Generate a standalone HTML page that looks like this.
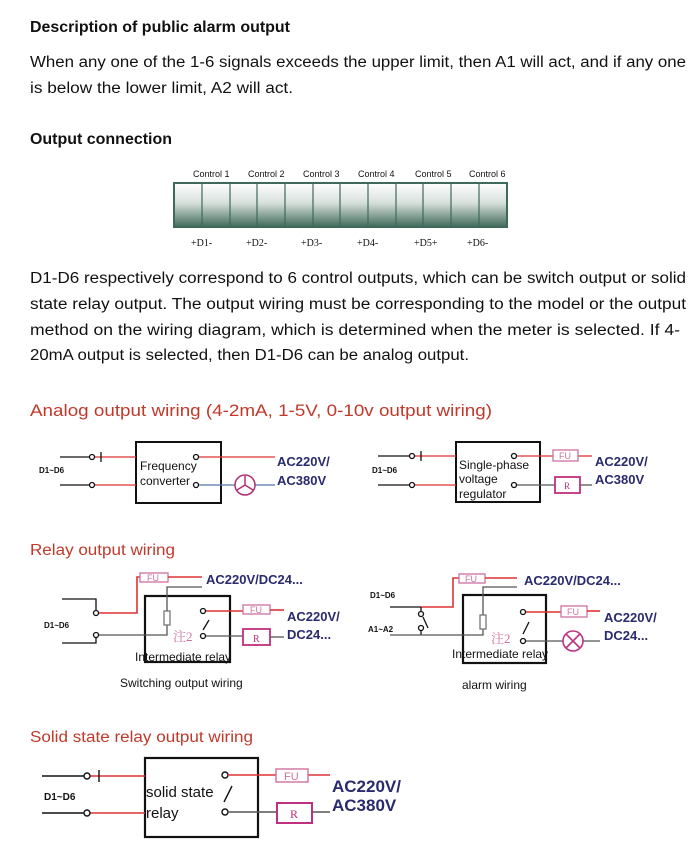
<!DOCTYPE html>
<html><head><meta charset="utf-8"><style>
html,body{margin:0;padding:0;background:#fff;width:699px;height:850px;overflow:hidden}
svg{display:block}
text{font-family:"Liberation Sans","Noto Sans CJK SC",sans-serif}
.p{font-size:15.5px;fill:#111}
.b{font-weight:bold;font-size:13px;fill:#2a2a6e}
.s{font-size:9px;fill:#111}
.l{font-size:12px;fill:#111}
.r{fill:#c0392b}
</style></head><body>
<svg width="699" height="850" viewBox="0 0 699 850">
<defs><linearGradient id="g" x1="0" y1="0" x2="0" y2="1"><stop offset="0" stop-color="#fff"/><stop offset="0.45" stop-color="#d8e0dc"/><stop offset="1" stop-color="#3f6a5a"/></linearGradient></defs>
<text x="30" y="32" font-weight="bold" font-size="15.5" fill="#111" textLength="260" lengthAdjust="spacingAndGlyphs">Description of public alarm output</text>
<text x="30" y="67" class="p" textLength="656" lengthAdjust="spacingAndGlyphs">When any one of the 1-6 signals exceeds the upper limit, then A1 will act, and if any one</text>
<text x="30" y="93" class="p" textLength="263" lengthAdjust="spacingAndGlyphs">is below the lower limit, A2 will act.</text>
<text x="30" y="144" font-weight="bold" font-size="15.5" fill="#111" textLength="142" lengthAdjust="spacingAndGlyphs">Output connection</text>
<g class="s">
<text x="193" y="177">Control 1</text><text x="248" y="177">Control 2</text><text x="303" y="177">Control 3</text><text x="358" y="177">Control 4</text><text x="415" y="177">Control 5</text><text x="469" y="177">Control 6</text>
</g>
<rect x="174" y="183" width="333" height="44" fill="url(#g)" stroke="#3f6a5a" stroke-width="2"/>
<g stroke="#3f6a5a" stroke-width="1.2">
<line x1="202" y1="184" x2="202" y2="226"/><line x1="230" y1="184" x2="230" y2="226"/><line x1="257" y1="184" x2="257" y2="226"/><line x1="285" y1="184" x2="285" y2="226"/><line x1="313" y1="184" x2="313" y2="226"/><line x1="340" y1="184" x2="340" y2="226"/><line x1="368" y1="184" x2="368" y2="226"/><line x1="396" y1="184" x2="396" y2="226"/><line x1="423" y1="184" x2="423" y2="226"/><line x1="451" y1="184" x2="451" y2="226"/><line x1="479" y1="184" x2="479" y2="226"/>
</g>
<g font-size="10" fill="#111">
<text x="191" y="246" style="font-family:'Liberation Serif',serif">+D1-</text><text x="246" y="246" style="font-family:'Liberation Serif',serif">+D2-</text><text x="301" y="246" style="font-family:'Liberation Serif',serif">+D3-</text><text x="357" y="246" style="font-family:'Liberation Serif',serif">+D4-</text><text x="414" y="246" style="font-family:'Liberation Serif',serif">+D5+</text><text x="467" y="246" style="font-family:'Liberation Serif',serif">+D6-</text>
</g>
<text x="30" y="283" class="p" textLength="656" lengthAdjust="spacingAndGlyphs">D1-D6 respectively correspond to 6 control outputs, which can be switch output or solid</text>
<text x="30" y="309" class="p" textLength="656" lengthAdjust="spacingAndGlyphs">state relay output. The output wiring must be corresponding to the model or the output</text>
<text x="30" y="335" class="p" textLength="650" lengthAdjust="spacingAndGlyphs">method on the wiring diagram, which is determined when the meter is selected. If 4-</text>
<text x="30" y="360" class="p" textLength="439" lengthAdjust="spacingAndGlyphs">20mA output is selected, then D1-D6 can be analog output.</text>
<text x="30" y="416" font-size="16.5" class="r" textLength="462" lengthAdjust="spacingAndGlyphs">Analog output wiring (4-2mA, 1-5V, 0-10v output wiring)</text>

<!-- Diagram 1 -->
<g fill="none" stroke-width="1.3">
<rect x="136" y="442" width="85" height="61" stroke="#111" stroke-width="2"/>
<line x1="60" y1="457" x2="90" y2="457" stroke="#111"/><line x1="95" y1="457" x2="136" y2="457" stroke="#d33"/><line x1="101" y1="452" x2="101" y2="462" stroke="#111"/>
<line x1="60" y1="485" x2="90" y2="485" stroke="#111"/><line x1="95" y1="485" x2="136" y2="485" stroke="#d33"/>
<circle cx="92" cy="457" r="2.5" stroke="#111"/><circle cx="92" cy="485" r="2.5" stroke="#111"/>
<circle cx="196" cy="457" r="2.5" stroke="#111"/><circle cx="196" cy="485" r="2.5" stroke="#111"/>
<line x1="199" y1="457" x2="275" y2="457" stroke="#d33"/>
<line x1="199" y1="485" x2="235" y2="485" stroke="#57a"/><line x1="255" y1="485" x2="275" y2="485" stroke="#57a"/>
<circle cx="245" cy="485" r="10" stroke="#b03070" stroke-width="1.5"/>
<path d="M245 485 V476 M245 485 L237 490 M245 485 L253 490" stroke="#b03070" stroke-width="1.5"/>
</g>
<text x="39" y="473" font-size="8" font-weight="bold" fill="#111">D1~D6</text>
<text x="140" y="470" font-size="12" fill="#111">Frequency</text><text x="140" y="485" font-size="12" fill="#111">converter</text>
<text x="277" y="466" class="b">AC220V/</text><text x="277" y="485" class="b">AC380V</text>

<!-- Diagram 2 -->
<g fill="none" stroke-width="1.3">
<rect x="456" y="442" width="84" height="60" stroke="#111" stroke-width="2"/>
<line x1="378" y1="456" x2="410" y2="456" stroke="#111"/><line x1="415" y1="456" x2="456" y2="456" stroke="#d33"/><line x1="421" y1="451" x2="421" y2="461" stroke="#111"/>
<line x1="378" y1="485" x2="410" y2="485" stroke="#111"/><line x1="415" y1="485" x2="456" y2="485" stroke="#d33"/>
<circle cx="412" cy="456" r="2.5" stroke="#111"/><circle cx="412" cy="485" r="2.5" stroke="#111"/>
<circle cx="514" cy="456" r="2.5" stroke="#111"/><circle cx="514" cy="485" r="2.5" stroke="#111"/>
<line x1="517" y1="456" x2="553" y2="456" stroke="#d33"/><line x1="578" y1="456" x2="592" y2="456" stroke="#d33"/>
<rect x="553" y="450" width="25" height="11" stroke="#d070a0"/>
<line x1="517" y1="485" x2="555" y2="485" stroke="#555"/><line x1="580" y1="485" x2="592" y2="485" stroke="#555"/>
<rect x="555" y="477" width="25" height="16" stroke="#c03080" stroke-width="1.8"/>
</g>
<text x="559" y="459" font-size="9" fill="#d070a0">FU</text><text x="564" y="489" font-size="9" fill="#c03080" style="font-family:'Liberation Serif',serif">R</text>
<text x="372" y="473" font-size="8" font-weight="bold" fill="#111">D1~D6</text>
<text x="459" y="469" font-size="12" fill="#111">Single-phase</text><text x="459" y="483" font-size="12" fill="#111">voltage</text><text x="459" y="498" font-size="12" fill="#111">regulator</text>
<text x="595" y="466" class="b">AC220V/</text><text x="595" y="484" class="b">AC380V</text>

<text x="30" y="555" font-size="15.5" class="r" textLength="145" lengthAdjust="spacingAndGlyphs">Relay output wiring</text>

<!-- Relay 1 -->
<g fill="none" stroke-width="1.3">
<rect x="145" y="596" width="85" height="66" stroke="#111" stroke-width="2.2"/>
<polyline points="62,599 96,599 96,610" stroke="#111"/>
<polyline points="62,643 96,643 96,638" stroke="#111"/>
<circle cx="96" cy="613" r="2.5" stroke="#111"/><circle cx="96" cy="635" r="2.5" stroke="#111"/>
<polyline points="99,613 137,613 137,577 140,577" stroke="#d33" stroke-width="1.6"/>
<rect x="140" y="573" width="28" height="9" stroke="#d070a0"/>
<line x1="168" y1="577" x2="202" y2="577" stroke="#d33" stroke-width="1.6"/>
<polyline points="99,635 167,635 167,625" stroke="#555"/>
<rect x="164" y="611" width="6" height="14" stroke="#777"/>
<polyline points="167,611 167,587 202,587" stroke="#555"/>
<circle cx="203" cy="611" r="2.5" stroke="#111"/><circle cx="203" cy="636" r="2.5" stroke="#111"/>
<line x1="203" y1="630" x2="209" y2="620" stroke="#111"/>
<line x1="206" y1="611" x2="243" y2="611" stroke="#d33" stroke-width="1.6"/>
<rect x="243" y="605" width="27" height="9" stroke="#d070a0"/>
<line x1="270" y1="610" x2="284" y2="610" stroke="#d33" stroke-width="1.6"/>
<line x1="206" y1="636" x2="243" y2="636" stroke="#555"/>
<rect x="243" y="629" width="27" height="16" stroke="#c03080" stroke-width="1.8"/>
<line x1="270" y1="637" x2="284" y2="637" stroke="#555"/>
</g>
<text x="147" y="581" font-size="9" fill="#d070a0">FU</text><text x="250" y="613" font-size="9" fill="#d070a0">FU</text>
<text x="253" y="642" font-size="10" fill="#c03080" style="font-family:'Liberation Serif',serif">R</text>
<text x="44" y="628" font-size="8" font-weight="bold" fill="#111">D1~D6</text>
<text x="173" y="641" font-size="13" fill="#d070a0" style="font-family:'Liberation Serif','Noto Serif CJK SC',serif">注2</text>
<text x="206" y="584" class="b">AC220V/DC24...</text>
<text x="287" y="621" class="b">AC220V/</text><text x="287" y="639" class="b">DC24...</text>
<text x="135" y="661" font-size="12" fill="#111">Intermediate relay</text>
<text x="120" y="687" font-size="12" fill="#111">Switching output wiring</text>

<!-- Relay 2 -->
<g fill="none" stroke-width="1.3">
<rect x="463" y="595" width="83" height="68" stroke="#111" stroke-width="2.2"/>
<line x1="390" y1="607" x2="421" y2="607" stroke="#111"/>
<polyline points="421,607 453,607 453,578 459,578" stroke="#d33" stroke-width="1.6"/>
<rect x="459" y="574" width="26" height="9" stroke="#d070a0"/>
<line x1="485" y1="578" x2="517" y2="578" stroke="#d33" stroke-width="1.6"/>
<line x1="421" y1="607" x2="421" y2="611" stroke="#111"/>
<circle cx="421" cy="614" r="2.5" stroke="#111"/><circle cx="421" cy="628" r="2.5" stroke="#111"/>
<line x1="423" y1="617" x2="428" y2="628" stroke="#111"/>
<line x1="421" y1="631" x2="421" y2="635" stroke="#111"/>
<polyline points="390,635 483,635 483,629" stroke="#555"/>
<rect x="480" y="615" width="6" height="14" stroke="#777"/>
<polyline points="483,615 483,587 517,587" stroke="#555"/>
<circle cx="523" cy="612" r="2.5" stroke="#111"/><circle cx="523" cy="641" r="2.5" stroke="#111"/>
<line x1="523" y1="634" x2="529" y2="622" stroke="#111"/>
<line x1="526" y1="612" x2="561" y2="612" stroke="#d33" stroke-width="1.6"/>
<rect x="561" y="606" width="26" height="11" stroke="#d070a0"/>
<line x1="587" y1="611" x2="600" y2="611" stroke="#d33" stroke-width="1.6"/>
<line x1="526" y1="641" x2="563" y2="641" stroke="#555"/><line x1="583" y1="641" x2="600" y2="641" stroke="#555"/>
<circle cx="573" cy="641" r="10" stroke="#c03080" stroke-width="1.6"/>
<path d="M566 634 L580 648 M580 634 L566 648" stroke="#c03080" stroke-width="1.6"/>
</g>
<text x="465" y="582" font-size="9" fill="#d070a0">FU</text><text x="567" y="615" font-size="9" fill="#d070a0">FU</text>
<text x="370" y="598" font-size="8" font-weight="bold" fill="#111">D1~D6</text>
<text x="368" y="632" font-size="8" font-weight="bold" fill="#111">A1~A2</text>
<text x="491" y="643" font-size="13" fill="#d070a0" style="font-family:'Liberation Serif','Noto Serif CJK SC',serif">注2</text>
<text x="524" y="585" class="b">AC220V/DC24...</text>
<text x="604" y="622" class="b">AC220V/</text><text x="604" y="640" class="b">DC24...</text>
<text x="452" y="658" font-size="12" fill="#111">Intermediate relay</text>
<text x="462" y="689" font-size="12" fill="#111">alarm wiring</text>

<text x="30" y="742" font-size="15.5" class="r" textLength="223" lengthAdjust="spacingAndGlyphs">Solid state relay output wiring</text>

<!-- SSR -->
<g fill="none" stroke-width="1.4">
<rect x="145" y="758" width="113" height="79" stroke="#111" stroke-width="2.2"/>
<line x1="42" y1="776" x2="84" y2="776" stroke="#111"/><line x1="90" y1="776" x2="145" y2="776" stroke="#d33"/><line x1="99" y1="770" x2="99" y2="782" stroke="#111"/>
<line x1="42" y1="813" x2="84" y2="813" stroke="#111"/><line x1="90" y1="813" x2="145" y2="813" stroke="#d33"/>
<circle cx="87" cy="776" r="3" stroke="#111"/><circle cx="87" cy="813" r="3" stroke="#111"/>
<circle cx="225" cy="775" r="3" stroke="#111"/><circle cx="225" cy="812" r="3" stroke="#111"/>
<line x1="224" y1="802" x2="232" y2="786" stroke="#111"/>
<line x1="228" y1="775" x2="276" y2="775" stroke="#d33"/><line x1="308" y1="775" x2="330" y2="775" stroke="#d33"/>
<rect x="276" y="769" width="32" height="13" stroke="#d070a0"/>
<line x1="228" y1="812" x2="277" y2="812" stroke="#555"/><line x1="312" y1="812" x2="330" y2="812" stroke="#555"/>
<rect x="277" y="803" width="35" height="20" stroke="#c03080" stroke-width="2"/>
</g>
<text x="284" y="780" font-size="11" fill="#d070a0">FU</text>
<text x="290" y="818" font-size="12" fill="#c03080" style="font-family:'Liberation Serif',serif">R</text>
<text x="44" y="800" font-size="10" font-weight="bold" fill="#111">D1~D6</text>
<text x="146" y="797" font-size="15" fill="#111">solid state</text><text x="146" y="818" font-size="15" fill="#111">relay</text>
<text x="332" y="792" font-size="17" font-weight="bold" fill="#2a2a6e">AC220V/</text>
<text x="332" y="811" font-size="17" font-weight="bold" fill="#2a2a6e">AC380V</text>
</svg>
</body></html>
